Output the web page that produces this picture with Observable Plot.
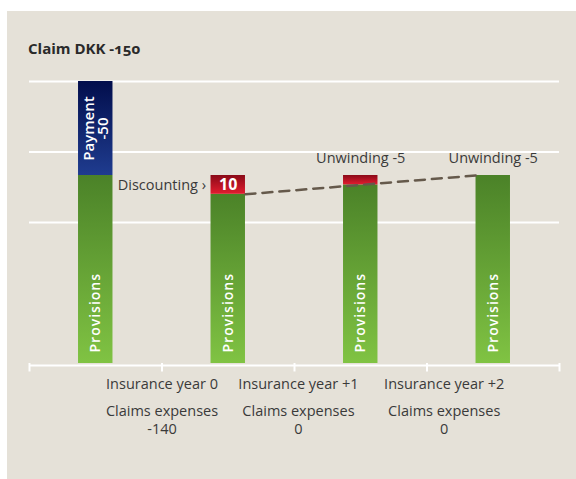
<!DOCTYPE html>
<html>
<head>
<meta charset="utf-8">
<script src="https://cdn.jsdelivr.net/npm/d3@7"></script>
<script src="https://cdn.jsdelivr.net/npm/@observablehq/plot@0.6"></script>
<style>
  html, body { margin: 0; padding: 0; background: #ffffff; }
  #wrap { position: relative; width: 576px; height: 479px; overflow: hidden; }
  #panel { position: absolute; left: 7px; top: 11px; right: 0; bottom: 0; background: #e5e1d8; }
  #title { position: absolute; left: 28px; top: 38px; font: bold 15px/20px "Open Sans", sans-serif; color: #2a2a2a; font-variant-numeric: oldstyle-nums; white-space: nowrap; }
  #chart { position: absolute; left: 0; top: 0; }
</style>
</head>
<body>
<div id="wrap">
  <div id="panel"></div>
  <div id="chart"></div>
  <div id="title"></div>
</div>
<script>
// ---- data ----
const title = "Claim DKK -150";
const categories = ["Claim", "Insurance year 0", "Insurance year +1", "Insurance year +2"];
const provisions = [100, 90, 95, 100];
const payment = [50, 0, 0, 0];
const adjustment = [0, 10, 5, 0];
const adjustmentText = ["", "10", "", ""];
const topNotes = ["", "", "Unwinding -5", "Unwinding -5"];
const yearLabels = ["Insurance year 0", "Insurance year +1", "Insurance year +2"];
const claimsExpenses = [-140, 0, 0];
const gridValues = [75, 112.5, 150];
const provisionsLabel = "Provisions";
const paymentLabel = "Payment";
const discountLabel = "Discounting ›";
const expensesLabel = "Claims expenses";

// ---- layout constants ----
const HW = 0.13;                       // half bar width in x units
const LABEL_X = [0.5, 1.53, 2.63];     // centers of the bottom label blocks
const TEXT = "#3a3a3a";
const FS = 14.5;

document.getElementById("title").textContent = title;

const idx = d3.range(categories.length);
const green = idx.map(i => ({i, x1: i - HW, x2: i + HW, y1: 0, y2: provisions[i]}));
const blue = idx.filter(i => payment[i] > 0).map(i => ({i, x1: i - HW, x2: i + HW, y1: provisions[i], y2: provisions[i] + payment[i], v: payment[i]}));
const red = idx.filter(i => adjustment[i] > 0).map(i => ({i, x1: i - HW, x2: i + HW, y1: provisions[i], y2: provisions[i] + adjustment[i], t: adjustmentText[i]}));
const notes = idx.filter(i => topNotes[i]).map(i => ({i, y: provisions[i] + adjustment[i] + payment[i], t: topNotes[i]}));
const trend = [{x: 1 + HW, y: provisions[1]}, {x: 3 - HW, y: provisions[3]}];
const disc = red.filter(d => d.t).map(d => ({x: d.x1, y: (d.y1 + d.y2) / 2}));

const svg = Plot.plot({
  width: 576,
  height: 479,
  marginTop: 81,
  marginBottom: 116,
  marginLeft: 29,
  marginRight: 17,
  x: {type: "linear", domain: [-0.5, categories.length - 0.5], axis: null},
  y: {domain: [0, 150], axis: null},
  style: {background: "transparent", fontFamily: "'Open Sans', sans-serif"},
  marks: [
    Plot.ruleY(gridValues, {stroke: "#ffffff", strokeWidth: 2}),
    Plot.rect(green, {x1: "x1", x2: "x2", y1: "y1", y2: "y2", fill: "url(#gGreen)"}),
    Plot.rect(blue, {x1: "x1", x2: "x2", y1: "y1", y2: "y2", fill: "url(#gBlue)"}),
    Plot.rect(red, {x1: "x1", x2: "x2", y1: "y1", y2: "y2", fill: "url(#gRed)"}),
    Plot.line(trend, {x: "x", y: "y", stroke: "#65594b", strokeWidth: 2.5, strokeDasharray: "10,7"}),
    Plot.ruleY([0], {x1: -0.5, x2: categories.length - 0.5, dy: 2, stroke: "#ffffff", strokeWidth: 2}),
    Plot.ruleX(d3.range(-0.5, categories.length, 1), {y1: 0, y2: -4.5, stroke: "#ffffff", strokeWidth: 2}),
    Plot.text(green, {x: d => d.i, y: 0, text: () => provisionsLabel, rotate: -90, textAnchor: "start", dy: -11, fill: "#ffffff", fontSize: 14, fontWeight: 600}),
    Plot.text(blue, {x: d => d.i, y: d => (d.y1 + d.y2) / 2, text: d => `${paymentLabel}\n-${d.v}`, rotate: -90, lineHeight: 0.9, dx: 1, fill: "#ffffff", fontSize: 15, fontWeight: 600}),
    Plot.text(red.filter(d => d.t), {x: d => d.i, y: d => (d.y1 + d.y2) / 2, text: "t", fill: "#ffffff", fontSize: 16, fontWeight: 700}),
    Plot.text(disc, {x: "x", y: "y", text: () => discountLabel, textAnchor: "end", dx: -5, fill: TEXT, fontSize: FS}),
    Plot.text(notes, {x: d => d.i, y: "y", text: "t", lineAnchor: "bottom", dy: -13, fill: TEXT, fontSize: FS}),
    Plot.text(yearLabels, {x: (d, i) => LABEL_X[i], frameAnchor: "bottom", lineAnchor: "top", dy: 15, fill: TEXT, fontSize: FS}),
    Plot.text(claimsExpenses, {x: (d, i) => LABEL_X[i], frameAnchor: "bottom", lineAnchor: "top", dy: 40, lineHeight: 1.25, text: d => `${expensesLabel}\n${d}`, fill: TEXT, fontSize: FS})
  ]
});

// gradients
const defs = d3.select(svg).insert("defs", ":first-child");
function grad(id, top, bottom) {
  const g = defs.append("linearGradient").attr("id", id).attr("x1", 0).attr("y1", 0).attr("x2", 0).attr("y2", 1);
  g.append("stop").attr("offset", "0%").attr("stop-color", top);
  g.append("stop").attr("offset", "100%").attr("stop-color", bottom);
}
grad("gGreen", "#4b8228", "#80c343");
grad("gBlue", "#020e4c", "#1f3c8f");
grad("gRed", "#8a0a18", "#e21c2f");

d3.select(svg).selectAll("text").filter(function() { return this.textContent === provisionsLabel; })
  .style("letter-spacing", "1px");

document.getElementById("chart").appendChild(svg);
</script>
</body>
</html>
